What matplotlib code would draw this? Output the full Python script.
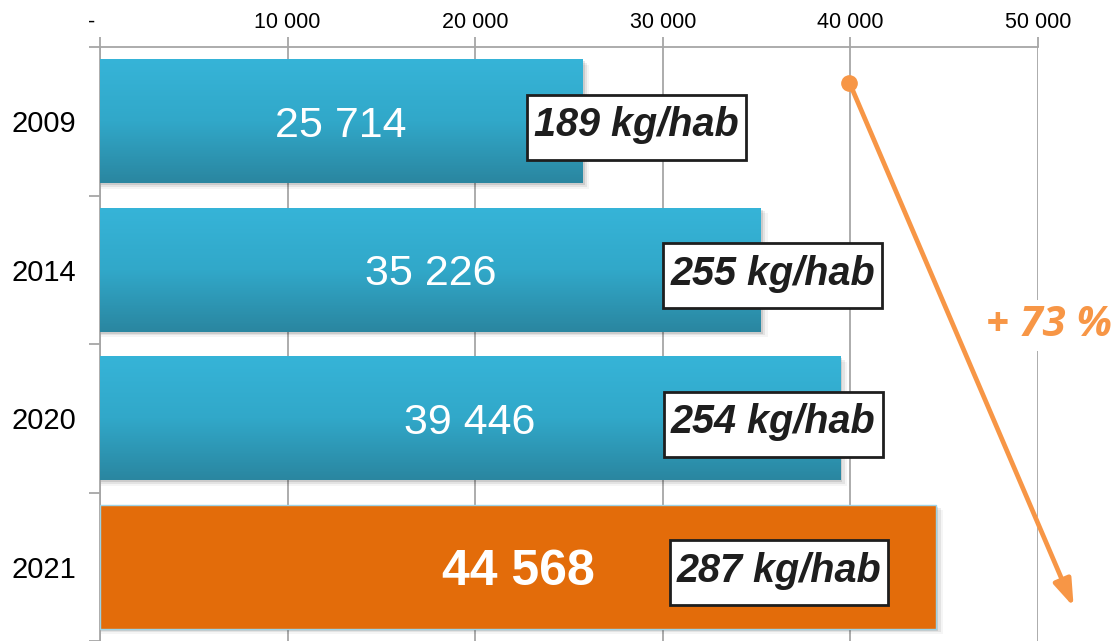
import numpy as np
import matplotlib.pyplot as plt
from matplotlib.colors import LinearSegmentedColormap
from matplotlib.patches import Rectangle
from matplotlib.transforms import ScaledTranslation

plt.rcParams['font.family'] = ['Liberation Sans', 'DejaVu Sans']

years = ['2009', '2014', '2020', '2021']
tonnes = [25714, 35226, 39446, 44568]
kg_hab = ['189 kg/hab', '255 kg/hab', '254 kg/hab', '287 kg/hab']
label_x = [28600, 35850, 35900, 36200]   # where the kg/hab boxes sit
growth = '+ 73 %'

blue_top = '#36B4D8'
blue_bot = '#2A86A0'
orange = '#E36C0A'
accent = '#F79646'
grid_c = '#A6A6A6'

fig = plt.figure(figsize=(11.2, 6.41), dpi=100)
ax = fig.add_axes([100 / 1120, 0, 938 / 1120, 1 - 47 / 641])

y = np.arange(len(years))
h = 0.835
ax.set_xlim(0, 50000)
ax.set_ylim(len(years) - 0.5, -0.5)

# soft shadows
for i, v in enumerate(tonnes):
    for k, a in enumerate([0.10, 0.07, 0.04]):
        ax.barh(y[i] + 0.012 * (k + 1), v + 120 * (k + 1), height=h, left=0,
                color='black', alpha=a, zorder=2, linewidth=0)

cmap = LinearSegmentedColormap.from_list('bl', [blue_top, '#31A8C9', blue_bot])
grad = np.linspace(0, 1, 256).reshape(-1, 1)
label_texts = []
for i, v in enumerate(tonnes):
    if i < len(tonnes) - 1:
        bar = ax.barh(y[i], v, height=h, color=blue_top, zorder=3, linewidth=0)[0]
        im = ax.imshow(grad, cmap=cmap, aspect='auto', zorder=3.5,
                       extent=[0, v, y[i] + h / 2, y[i] - h / 2], origin='upper')
        im.set_clip_path(bar)
        ax.text(v / 2, y[i], f'{v:,}'.replace(',', ' '), color='white',
                fontsize=31, ha='center', va='center_baseline', zorder=5)
    else:
        ax.barh(y[i], v, height=h, color=orange, edgecolor='#9DD3E6',
                linewidth=1, zorder=3)
        ax.text(v / 2, y[i], f'{v:,}'.replace(',', ' '), color='white',
                fontsize=36, fontweight='bold', ha='center', va='center_baseline',
                zorder=5)
    t = ax.text(label_x[i], y[i], kg_hab[i], fontsize=28.5, fontweight='bold',
                fontstyle='italic', color='#1E1E1E', ha='center',
                va='center_baseline', zorder=6)
    label_texts.append(t)

# axes styling
ax.xaxis.tick_top()
ax.set_xticks(np.arange(0, 50001, 10000))
ax.set_xticklabels(['-'] + [f'{t:,}'.replace(',', ' ') for t in range(10000, 50001, 10000)])
ax.tick_params(axis='x', length=7, color=grid_c, width=1.3, labelsize=15.5, pad=3)
first = ax.get_xticklabels()[0]
first.set_transform(first.get_transform() + ScaledTranslation(-0.08, 0, fig.dpi_scale_trans))
ax.set_yticks(y)
ax.set_yticklabels(years)
ax.set_yticks(np.arange(-0.5, len(years) + 0.5, 1), minor=True)
ax.tick_params(axis='y', which='major', length=0, labelsize=21, pad=17)
ax.tick_params(axis='y', which='minor', length=8, color=grid_c, width=1.3)
ax.grid(axis='x', color=grid_c, linewidth=1.3, zorder=0)
ax.set_axisbelow(True)
for s in ['right', 'bottom']:
    ax.spines[s].set_visible(False)
for s in ['top', 'left']:
    ax.spines[s].set_color(grid_c)
    ax.spines[s].set_linewidth(1.3)

# boxes around the kg/hab labels, sized from the rendered text
fig.canvas.draw()
r = fig.canvas.get_renderer()
inv = ax.transData.inverted()
for t in label_texts:
    bb = t.get_window_extent(r)
    cx, cy = (bb.x0 + bb.x1) / 2, (bb.y0 + bb.y1) / 2
    w, hh = bb.width + 14, 65
    (x0, y0), (x1, y1) = inv.transform([(cx - w / 2, cy - hh / 2 - 2),
                                        (cx + w / 2, cy + hh / 2 - 2)])
    ax.add_patch(Rectangle((x0, y0), x1 - x0, y1 - y0, fc='white',
                           ec='#1E1E1E', lw=2, zorder=5.5))

# growth arrow
ax.annotate('', xy=(51900, 3.27), xytext=(39950, -0.26),
            arrowprops=dict(arrowstyle='-|>,head_length=1.6,head_width=0.55',
                            color=accent, lw=3.4, shrinkA=0, shrinkB=0),
            annotation_clip=False, zorder=7)
ax.plot([39950], [-0.26], 'o', color=accent, ms=11, clip_on=False, zorder=8)
ax.text(50600, 1.34, growth, color=accent, fontsize=30, fontweight='bold',
        fontstyle='italic', family=['Open Sans', 'DejaVu Sans'], ha='center',
        va='center_baseline', zorder=6, clip_on=False,
        bbox=dict(boxstyle='square,pad=0.12', fc='white', ec='none'))

fig.savefig('out.png', dpi=100)
